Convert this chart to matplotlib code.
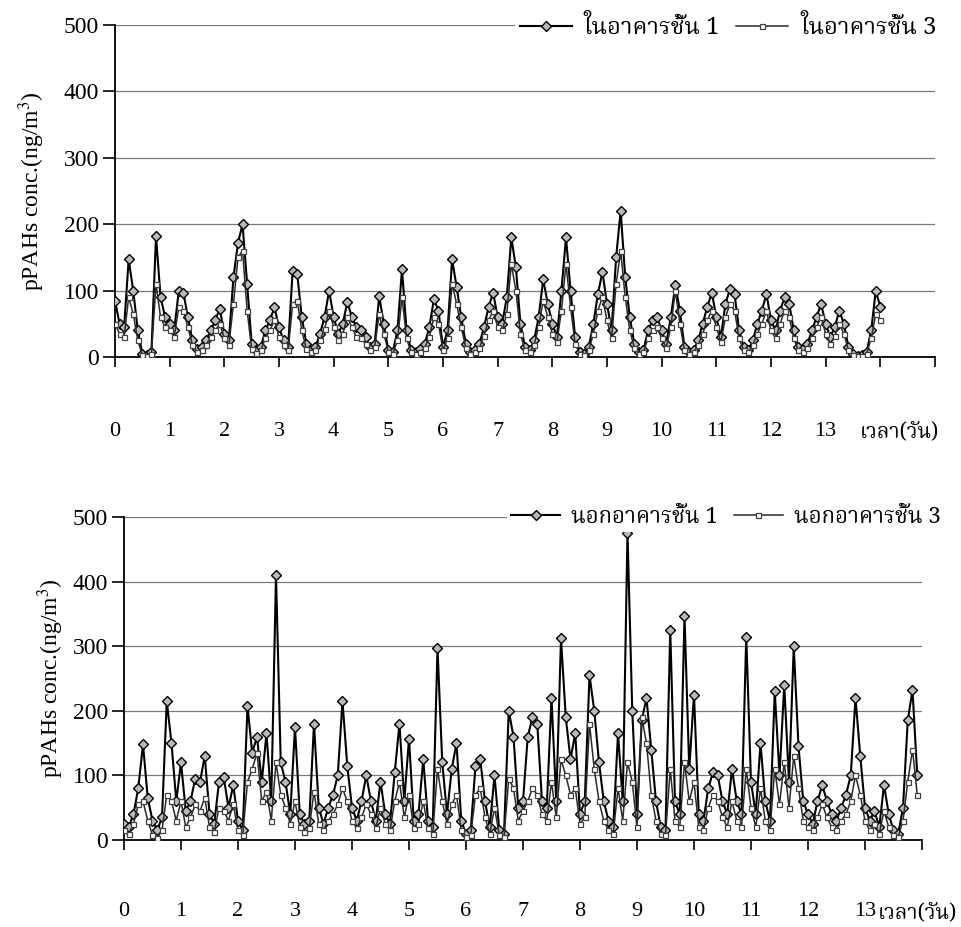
import matplotlib
matplotlib.use("Agg")
import matplotlib.pyplot as plt
import numpy as np
from matplotlib import font_manager
from matplotlib.ft2font import FT2Font

# 2-hour readings, one row per day
step_days = 2 / 24

in_floor1 = [85, 50, 45, 147, 100, 40, 5, 3, 8, 182, 90, 60,
             50, 40, 100, 97, 60, 25, 12, 15, 25, 40, 55, 73,
             35, 25, 120, 172, 200, 110, 20, 10, 15, 40, 55, 75,
             45, 25, 15, 130, 125, 60, 20, 12, 15, 35, 60, 100,
             60, 35, 50, 83, 60, 45, 40, 30, 15, 20, 92, 50,
             10, 8, 40, 132, 40, 10, 8, 12, 20, 45, 87, 70,
             15, 40, 147, 105, 60, 20, 8, 10, 20, 45, 75, 97,
             60, 50, 90, 180, 135, 50, 15, 10, 25, 60, 117, 80,
             50, 30, 100, 180, 100, 30, 8, 5, 15, 50, 95, 128,
             80, 40, 150, 220, 120, 60, 20, 8, 10, 40, 55, 60,
             40, 20, 60, 108, 70, 15, 8, 10, 25, 50, 75, 97,
             60, 30, 80, 103, 95, 40, 15, 10, 25, 50, 70, 95,
             55, 40, 70, 90, 80, 40, 15, 12, 20, 40, 60, 80,
             50, 30, 45, 70, 50, 15, 5, 2, 3, 8, 40, 100,
             75]

in_floor3 = [50, 35, 30, 90, 65, 25, 3, 2, 5, 110, 60, 45,
             40, 30, 75, 70, 45, 18, 8, 10, 18, 30, 40, 50,
             28, 18, 80, 150, 160, 70, 12, 6, 10, 28, 40, 55,
             30, 18, 10, 80, 85, 40, 12, 8, 10, 25, 42, 70,
             45, 25, 35, 60, 45, 30, 28, 20, 10, 15, 65, 35,
             8, 5, 25, 90, 28, 7, 5, 8, 14, 30, 60, 50,
             10, 28, 110, 80, 45, 14, 5, 7, 14, 32, 55, 70,
             45, 40, 65, 140, 100, 35, 10, 7, 18, 45, 85, 60,
             35, 22, 70, 140, 75, 20, 5, 3, 10, 35, 70, 90,
             55, 28, 110, 160, 90, 40, 14, 5, 7, 28, 40, 45,
             28, 14, 45, 100, 50, 10, 5, 7, 18, 35, 55, 70,
             45, 22, 60, 80, 70, 28, 10, 7, 18, 35, 50, 70,
             40, 28, 50, 70, 60, 28, 10, 8, 14, 28, 45, 60,
             35, 20, 32, 50, 35, 10, 3, 1, 2, 5, 28, 65,
             55]

out_floor1 = [25, 20, 40, 80, 148, 65, 30, 15, 35, 215, 150, 60,
              120, 45, 60, 95, 90, 130, 40, 25, 90, 97, 50, 85,
              30, 15, 207, 135, 160, 90, 165, 60, 410, 120, 90, 40,
              175, 40, 25, 30, 180, 50, 25, 50, 70, 100, 215, 115,
              50, 30, 60, 100, 60, 30, 90, 40, 25, 105, 180, 60,
              157, 30, 40, 125, 30, 20, 297, 120, 40, 110, 150, 30,
              10, 15, 115, 125, 60, 20, 100, 15, 10, 200, 160, 50,
              60, 160, 190, 180, 60, 50, 220, 60, 312, 190, 125, 165,
              40, 60, 255, 200, 120, 60, 30, 20, 165, 60, 475, 200,
              40, 185, 220, 140, 60, 20, 15, 325, 60, 40, 347, 110,
              225, 40, 30, 80, 105, 100, 60, 40, 110, 60, 40, 315,
              90, 40, 150, 60, 30, 230, 100, 240, 90, 300, 145, 60,
              40, 25, 60, 85, 60, 40, 30, 50, 70, 100, 220, 130,
              50, 30, 45, 20, 85, 40, 15, 10, 50, 185, 232, 100]

out_floor3 = [15, 10, 25, 55, 60, 30, 8, 3, 15, 70, 60, 30,
              60, 20, 35, 55, 45, 65, 20, 12, 50, 45, 30, 55,
              15, 8, 90, 110, 135, 60, 75, 30, 120, 70, 50, 25,
              60, 20, 12, 18, 75, 25, 15, 30, 40, 55, 80, 60,
              30, 18, 35, 55, 40, 18, 50, 25, 15, 60, 90, 35,
              70, 18, 25, 60, 18, 10, 110, 60, 25, 55, 70, 15,
              5, 8, 70, 80, 35, 10, 50, 8, 5, 95, 80, 30,
              45, 60, 80, 70, 40, 30, 90, 35, 125, 100, 70, 80,
              25, 35, 180, 110, 60, 30, 15, 10, 80, 30, 120, 90,
              20, 190, 150, 70, 30, 10, 8, 110, 30, 20, 120, 60,
              90, 20, 15, 50, 70, 60, 35, 20, 60, 30, 20, 110,
              50, 20, 80, 30, 15, 110, 55, 120, 50, 130, 80, 30,
              20, 15, 35, 55, 35, 20, 15, 30, 40, 60, 100, 70,
              30, 15, 25, 10, 45, 20, 8, 5, 30, 90, 140, 70]

day_ticks = list(range(0, 14))
y_ticks = [0, 100, 200, 300, 400, 500]
legend_in = ["ในอาคารชั้น 1", "ในอาคารชั้น 3"]
legend_out = ["นอกอาคารชั้น 1", "นอกอาคารชั้น 3"]
time_label = "เวลา(วัน)"
y_label = "pPAHs conc.(ng/m$^3$)"


def find_thai_font():
    found = []
    for f in font_manager.fontManager.ttflist:
        try:
            if 0x0E2D in FT2Font(f.fname).get_charmap():
                found.append(f.name)
        except Exception:
            continue
    # prefer a looped / serif thai face, closer to the scanned original
    for key in ["Norasi", "Kinnari", "Serif Thai", "Looped", "Garuda", "Loma"]:
        for name in found:
            if key in name:
                return name
    return found[0] if found else "DejaVu Sans"


thai = find_thai_font()
serif = "Liberation Serif"
plt.rcParams["font.family"] = [serif, thai, "DejaVu Sans"]
plt.rcParams["mathtext.fontset"] = "stix"

fig = plt.figure(figsize=(9.62, 9.27), dpi=100)
W, H = 962, 927


def make_axes(x0, x1, ytop, ybot):
    return fig.add_axes([x0 / W, 1 - ybot / H, (x1 - x0) / W, (ybot - ytop) / H])


def draw_panel(ax, s1, s3, xmax, labels, legend_xy, ylabel_x, extra_x, extra_ha, pad, leg_size):
    x1 = np.arange(len(s1)) * step_days
    x3 = np.arange(len(s3)) * step_days
    ax.set_xlim(0, xmax)
    ax.set_ylim(0, 500)
    for y in y_ticks[1:]:
        ax.axhline(y, color="#7a7a7a", lw=0.9, zorder=0)
    l1, = ax.plot(x1, s1, color="black", lw=1.5, marker="D", ms=4.8,
                  mfc="#b8b8b8", mec="black", mew=1.0, label=labels[0], zorder=3)
    l3, = ax.plot(x3, s3, color="#2a2a2a", lw=1.1, marker="s", ms=3.6,
                  mfc="white", mec="#404040", mew=0.9, label=labels[1], zorder=4)
    for side in ["top", "right"]:
        ax.spines[side].set_visible(False)
    ax.spines["left"].set_linewidth(1.3)
    ax.spines["bottom"].set_linewidth(1.3)
    ax.set_yticks(y_ticks)
    ax.set_xticks(range(0, int(xmax) + 1))
    ax.set_xticklabels([str(d) for d in day_ticks] + [""] * (int(xmax) + 1 - len(day_ticks)))
    ax.tick_params(axis="y", direction="out", length=8.5, width=1.2, labelsize=17, pad=3)
    ax.tick_params(axis="x", direction="out", length=7, width=1.2, labelsize=16, pad=pad)
    ax.set_ylabel(y_label, fontsize=17, family=serif)
    ax.yaxis.set_label_coords(ylabel_x, 0.5)
    ax.text(extra_x, -0.226, time_label, transform=ax.get_xaxis_transform(),
            ha=extra_ha, va="center", fontsize=15, family=[thai, serif])
    leg = fig.legend(handles=[l1, l3], loc="center left", ncol=2,
                     bbox_to_anchor=(legend_xy[0] / W, 1 - legend_xy[1] / H),
                     frameon=True, facecolor="white", edgecolor="none", framealpha=1,
                     handlelength=2.2, handletextpad=0.5, columnspacing=0.7,
                     borderpad=0.2, borderaxespad=0,
                     prop={"family": [thai, serif], "size": leg_size})
    return leg


ax_top = make_axes(115, 935, 25, 357)
draw_panel(ax_top, in_floor1, in_floor3, 15, legend_in, (515, 28),
           -0.083, 14.35, "center", 40, 17)

ax_bot = make_axes(124, 922, 517, 840)
draw_panel(ax_bot, out_floor1, out_floor3, 14, legend_out, (507, 517),
           -0.073, 13.22, "left", 38, 16)

fig.savefig("out.png", dpi=100)
